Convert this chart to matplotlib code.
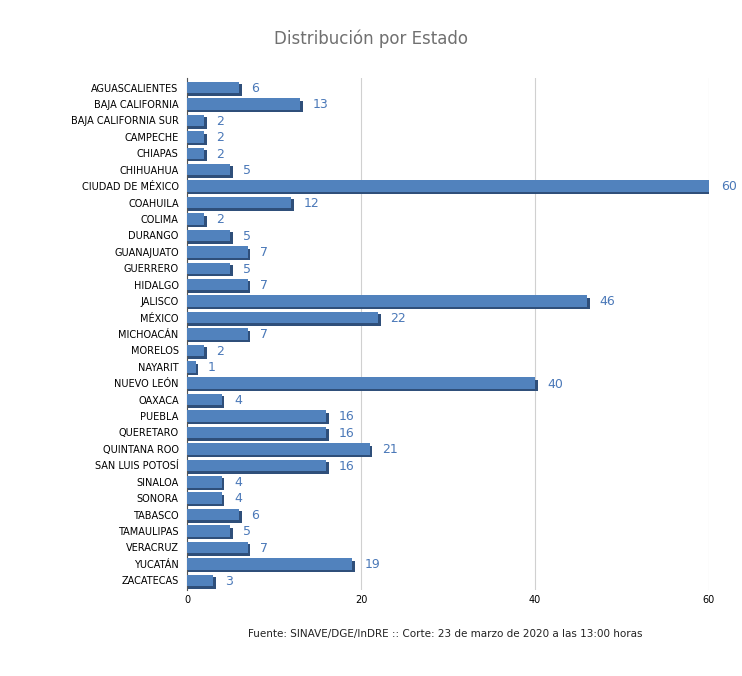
import matplotlib
matplotlib.use('Agg')
import matplotlib.pyplot as plt

estados = ["AGUASCALIENTES", "BAJA CALIFORNIA", "BAJA CALIFORNIA SUR", "CAMPECHE", "CHIAPAS",
           "CHIHUAHUA", "CIUDAD DE MÉXICO", "COAHUILA", "COLIMA", "DURANGO", "GUANAJUATO",
           "GUERRERO", "HIDALGO", "JALISCO", "MÉXICO", "MICHOACÁN", "MORELOS", "NAYARIT",
           "NUEVO LEÓN", "OAXACA", "PUEBLA", "QUERETARO", "QUINTANA ROO", "SAN LUIS POTOSÍ",
           "SINALOA", "SONORA", "TABASCO", "TAMAULIPAS", "VERACRUZ", "YUCATÁN", "ZACATECAS"]
casos = [6, 13, 2, 2, 2, 5, 60, 12, 2, 5, 7, 5, 7, 46, 22, 7, 2, 1, 40, 4, 16, 16, 21, 16,
         4, 4, 6, 5, 7, 19, 3]

fig = plt.figure(figsize=(7.42, 6.76), dpi=100)
ax = fig.add_axes([0.252, 0.127, 0.7035, 0.758])

pos = list(range(len(estados)))
# 3D-ish shadow then face
ax.barh([p + 0.15 for p in pos], [c + 0.3 for c in casos], height=0.7, color='#2f4f7a', zorder=2)
ax.barh(pos, casos, height=0.7, color='#5182bd', zorder=3)
for p, c in zip(pos, casos):
    ax.text(c + 1.4, p + 0.05, str(c), va='center', ha='left', fontsize=9, color='#4a78b8',
            clip_on=False)

ax.set_yticks(pos)
ax.set_yticklabels(estados, fontsize=7)
ax.set_ylim(len(estados) - 0.4, -0.6)
ax.set_xlim(0, 60)
ax.set_xticks([0, 20, 40, 60])
ax.tick_params(axis='x', labelsize=7, length=0)
ax.tick_params(axis='y', length=0, pad=6)
ax.grid(axis='x', color='#d0d0d0', lw=0.8, zorder=0)
for s in ['top', 'right', 'bottom']:
    ax.spines[s].set_visible(False)
ax.spines['left'].set_color('#555555')
ax.set_ylabel('Estado', fontsize=4, labelpad=80)

fig.text(0.5, 0.935, 'Distribución por Estado', ha='center', fontsize=12, color='#707070')
fig.text(0.6, 0.057, 'Fuente: SINAVE/DGE/InDRE :: Corte: 23 de marzo de 2020 a las 13:00 horas',
         ha='center', fontsize=7.5, color='#222222')

fig.savefig('out.png', dpi=100)
